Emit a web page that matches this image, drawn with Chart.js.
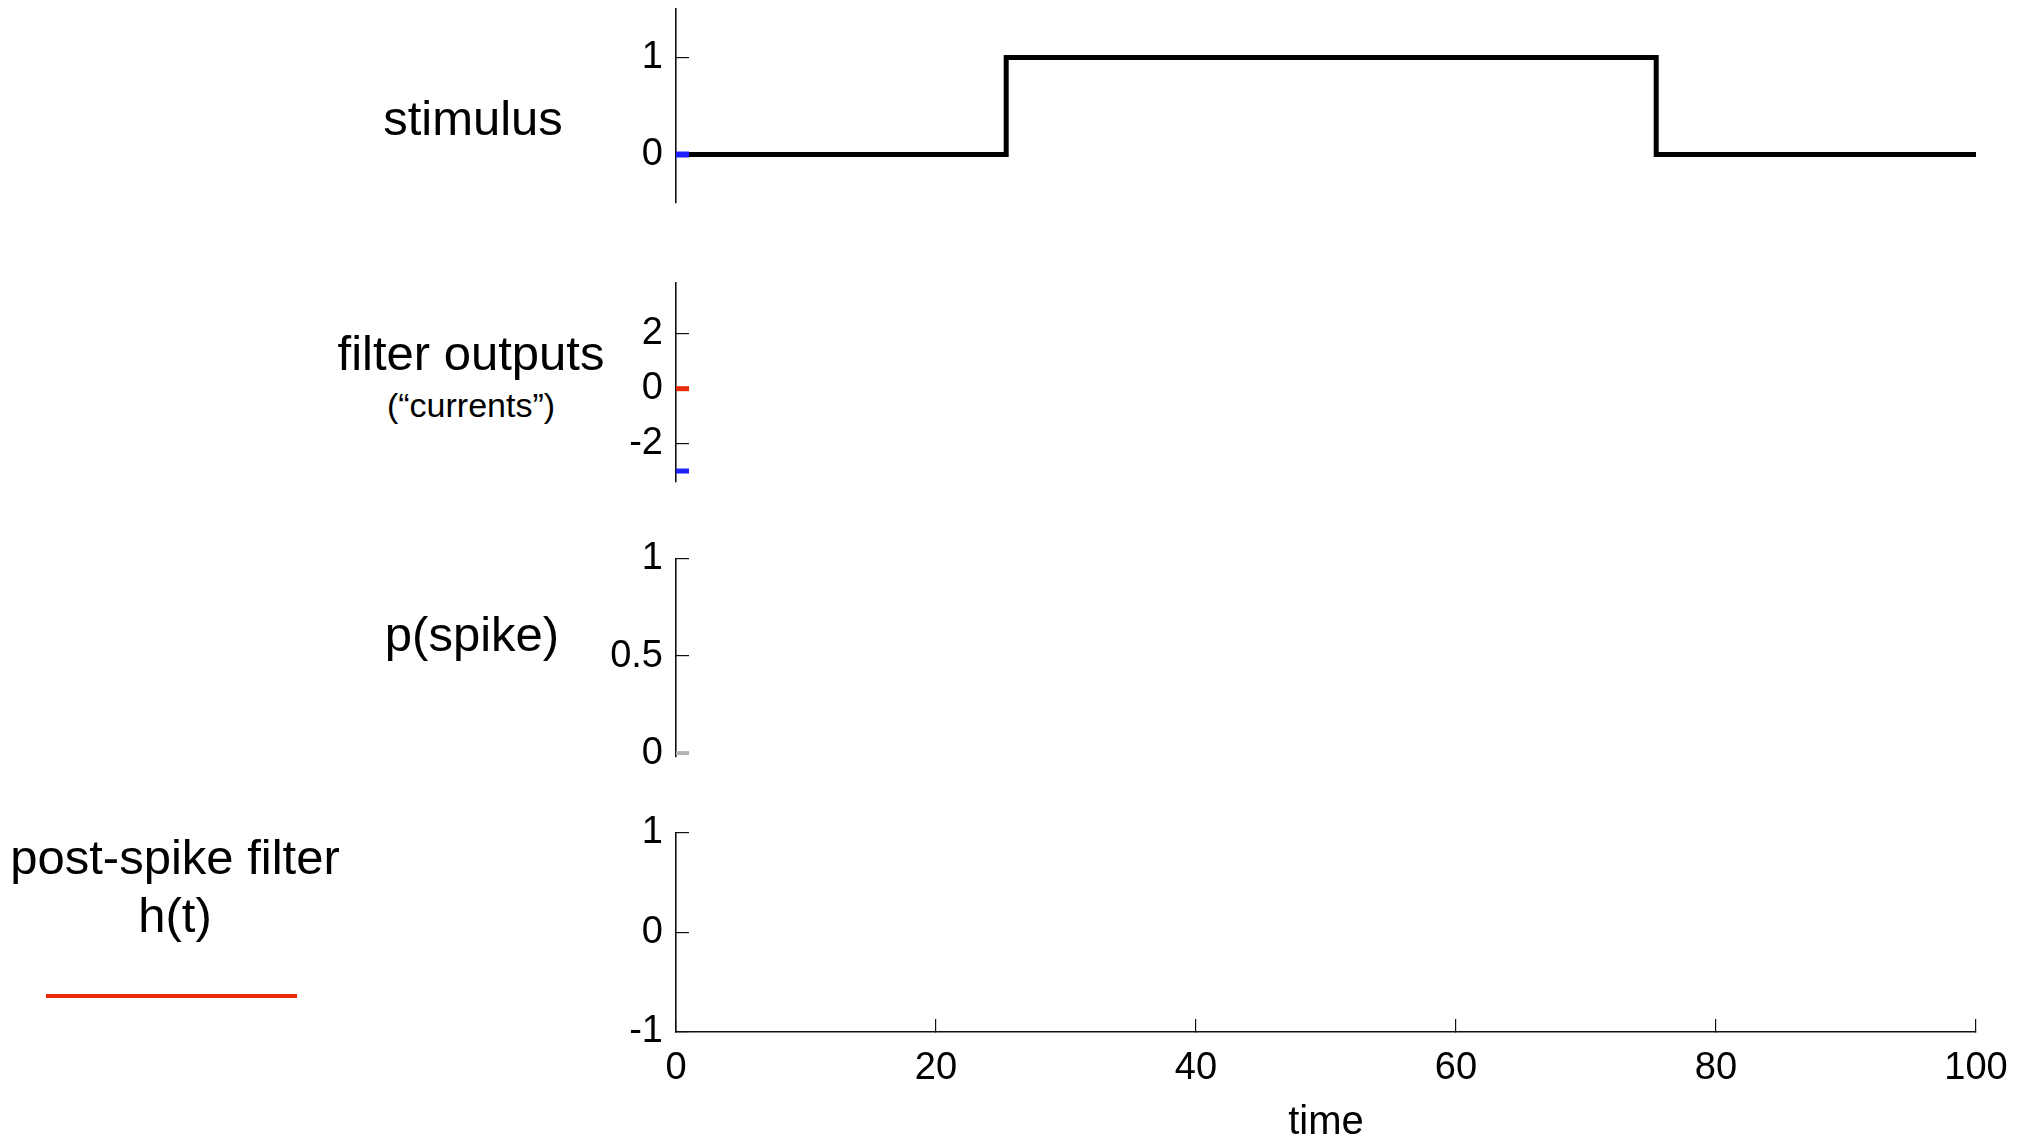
<!DOCTYPE html>
<html>
<head>
<meta charset="utf-8">
<script src="https://cdn.jsdelivr.net/npm/chart.js@4"></script>
<style>
  html, body { margin: 0; padding: 0; background: #fff; width: 2028px; height: 1137px; overflow: hidden; position: relative; }
  canvas { position: absolute; left: 0; }
  .lbl { position: absolute; font-family: "Liberation Sans", Arial, Helvetica, sans-serif; color: #000; text-align: center; white-space: nowrap; }
</style>
</head>
<body>
<div class="lbl" style="left:323px; width:300px; top:94px; font-size:49px; line-height:49px;">stimulus</div>
<div class="lbl" style="left:321px; width:300px; top:329px; font-size:49px; line-height:49px;">filter outputs</div>
<div class="lbl" style="left:321px; width:300px; top:388px; font-size:34px; line-height:34px;">(“currents”)</div>
<div class="lbl" style="left:322px; width:300px; top:610px; font-size:49px; line-height:49px;">p(spike)</div>
<div class="lbl" style="left:0px; width:350px; top:833px; font-size:49px; line-height:49px;">post-spike filter</div>
<div class="lbl" style="left:0px; width:350px; top:891px; font-size:49px; line-height:49px;">h(t)</div>
<div style="position:absolute; left:46px; top:994px; width:251px; height:4px; background:#ea2a08;"></div>

<canvas id="c1"></canvas>
<canvas id="c2"></canvas>
<canvas id="c3"></canvas>
<canvas id="c4"></canvas>

<script>
// ---- data ----
const timeTicks = [0, 20, 40, 60, 80, 100];

const stimTime  = [0, 25.4, 75.4, 100];
const stimValue = [0, 1, 0, 0];          // stepped: value changes at ~25 and ~75
const stimMarkerTime  = [0, 1];
const stimMarkerValue = [0, 0];

const filtTime      = [0, 1];
const filtStimValue = [-3, -3];          // blue (stimulus filter output)
const filtPostValue = [0, 0];            // red (post-spike filter output)

const pTime  = [0, 1];
const pValue = [0, 0];

const stimTicks = [0, 1];
const filtTicks = [-2, 0, 2];
const pTicks    = [0, 0.5, 1];
const hTicks    = [-1, 0, 1];

// ---- helpers ----
const FONT = "'Liberation Sans', Arial, Helvetica, sans-serif";
const AXIS_LEFT = 676;
const CANVAS_W = 2100;
const PLOT_RIGHT = 1976;
const PAD_RIGHT = CANVAS_W - PLOT_RIGHT;
const PAD_V = 60;

function pts(xs, ys) { return xs.map((x, i) => ({ x: x, y: ys[i] })); }

function yAxis(min, max, ticks) {
  return {
    type: 'linear', position: 'left', min: min, max: max,
    afterFit: s => { s.width = AXIS_LEFT; },
    afterBuildTicks: s => { s.ticks = ticks.map(v => ({ value: v })); },
    border: { display: true, color: '#111', width: 1.6 },
    grid: { display: true, drawOnChartArea: false, drawTicks: true, tickLength: -13, color: '#111', lineWidth: 1.2 },
    ticks: { color: '#000', padding: 26, font: { family: FONT, size: 38 }, callback: v => String(v) }
  };
}

function xHidden() {
  return { type: 'linear', min: 0, max: 100, display: false };
}

function makeChart(id, top, height, padTop, padBottom, datasets, yScale, xScale) {
  const cv = document.getElementById(id);
  cv.width = CANVAS_W; cv.height = height;
  cv.style.top = top + 'px';
  return new Chart(cv, {
    type: 'line',
    data: { datasets: datasets },
    options: {
      responsive: false, animation: false, devicePixelRatio: 1,
      layout: { padding: { left: 0, right: PAD_RIGHT, top: padTop, bottom: padBottom } },
      plugins: { legend: { display: false }, tooltip: { enabled: false } },
      elements: { point: { radius: 0 } },
      scales: { x: xScale, y: yScale }
    }
  });
}

function ds(data, color, width, stepped) {
  return { data: data, borderColor: color, borderWidth: width, pointRadius: 0, fill: false, stepped: !!stepped, parsing: false };
}

function panel(id, plotTop, plotBottom, datasets, yScale) {
  const top = plotTop - PAD_V;
  const h = plotBottom - plotTop + 2 * PAD_V;
  return makeChart(id, top, h, PAD_V, PAD_V, datasets, yScale, xHidden());
}

// stimulus
panel('c1', 8.5, 202.5, [
  ds(pts(stimMarkerTime, stimMarkerValue), '#1f22ff', 6),
  ds(pts(stimTime, stimValue), '#000', 5, true)
], yAxis(-0.5, 1.5, stimTicks));

// filter outputs
panel('c2', 283, 482, [
  ds(pts(filtTime, filtPostValue), '#ea2a08', 5),
  ds(pts(filtTime, filtStimValue), '#1f22ff', 5)
], yAxis(-3.4, 3.85, filtTicks));

// p(spike)
panel('c3', 559, 757, [
  ds(pts(pTime, pValue), '#b4b4b4', 4)
], yAxis(-0.02, 1, pTicks));

// post-spike filter h(t) with time axis
(function () {
  const plotTop = 833, plotBottom = 1032, canvasBottom = 1160;
  const top = plotTop - PAD_V;
  const h = canvasBottom - top;
  const xAxis = {
    type: 'linear', position: 'bottom', min: 0, max: 100,
    afterFit: s => { s.height = canvasBottom - plotBottom; },
    afterBuildTicks: s => { s.ticks = timeTicks.map(v => ({ value: v })); },
    border: { display: true, color: '#111', width: 1.6 },
    grid: { display: true, drawOnChartArea: false, drawTicks: true, tickLength: -13, color: '#111', lineWidth: 1.2 },
    ticks: { color: '#000', padding: 27, maxRotation: 0, font: { family: FONT, size: 38 } },
    title: { display: true, text: 'time', color: '#000', font: { family: FONT, size: 40 }, padding: { top: 0, bottom: 13 } }
  };
  makeChart('c4', top, h, PAD_V, 0, [], yAxis(-1, 1, hTicks), xAxis);
})();
</script>
</body>
</html>
